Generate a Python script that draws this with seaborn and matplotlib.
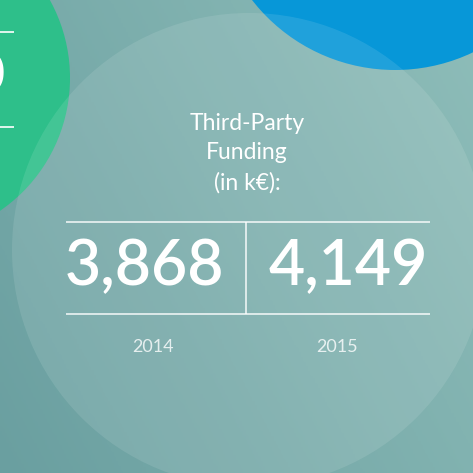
import numpy as np
import matplotlib.pyplot as plt
import matplotlib.patches as mpatches
from matplotlib.colors import LinearSegmentedColormap
import seaborn as sns

# data
title = "Third-Party\nFunding\n(in k€):"
years = ["2014", "2015"]
funding = [3868, 4149]

sns.set_theme(style="white")
plt.rcParams['font.family'] = ['Lato', 'DejaVu Sans']

fig = plt.figure(figsize=(4.73, 4.73), dpi=100)
ax = fig.add_axes([0, 0, 1, 1])
ax.set_xlim(0, 473)
ax.set_ylim(473, 0)
ax.axis('off')

# background teal gradient, darker to the left and bottom
gx, gy = np.meshgrid(np.linspace(0, 1, 200), np.linspace(0, 1, 200))
grad = 0.65 * gx + 0.35 * (1 - gy)
cmap = LinearSegmentedColormap.from_list('bg', ['#6a9fa0', '#8ebdb9'])
ax.imshow(grad, cmap=cmap, extent=[0, 473, 473, 0], aspect='auto', zorder=0)

# decorative circles
ax.add_patch(mpatches.Circle((-91, 78), 161, color='#2ebf8a', zorder=1, lw=0))
ax.add_patch(mpatches.Circle((395, -111), 181, color='#0797d8', zorder=1, lw=0))
ax.add_patch(mpatches.Circle((249, 250), 237, color='white', alpha=0.1, zorder=2, lw=0))

# partial number from the neighbouring panel (cut by the edge on purpose)
ax.hlines([32, 127], 0, 14, color='white', lw=1.2, zorder=3)
ax.text(-11, 76, "0", color='white', fontsize=40, fontweight='semibold',
        ha='center', va='center', zorder=3)

# title
ax.text(247, 153, title, color='white', fontsize=16.5, fontweight='normal',
        ha='center', va='center', linespacing=1.5, zorder=3)

# table lines
line_col = (1, 1, 1, 0.85)
ax.hlines([222, 314], 66, 430, color=line_col, lw=1.2, zorder=3)
ax.vlines(246, 222, 314, color=line_col, lw=1.2, zorder=3)

num_x = [144, 348]
year_x = [153, 337]
for i in range(len(years)):
    ax.text(num_x[i], 267, f"{funding[i]:,}", color='white', fontsize=45,
            fontweight='semibold', ha='center', va='center', zorder=3)
    ax.text(year_x[i], 347, years[i], color=(1, 1, 1, 0.8), fontsize=13,
            fontweight='normal', ha='center', va='center', zorder=3)

fig.savefig('out.png', dpi=100)
